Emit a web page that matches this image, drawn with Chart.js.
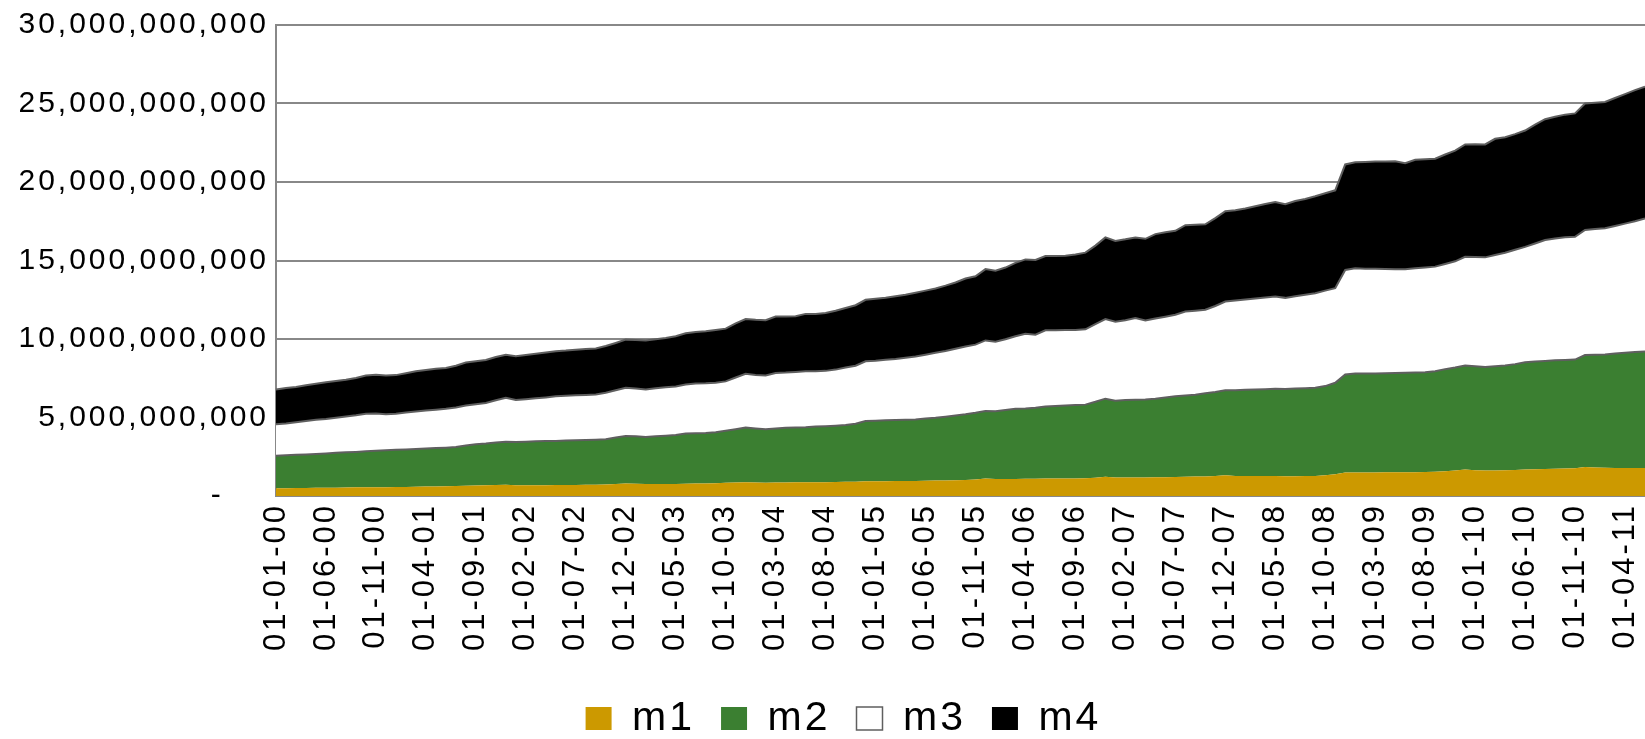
<!DOCTYPE html>
<html>
<head>
<meta charset="utf-8">
<script src="https://cdn.jsdelivr.net/npm/chart.js@4.4.0/dist/chart.umd.min.js"></script>
<style>
  html, body { margin: 0; padding: 0; background: #ffffff; }
  #wrap { width: 1645px; height: 739px; position: relative; }
</style>
</head>
<body>
<div id="wrap"><canvas id="c"></canvas></div>
<script>
// Values in billions
const startYear = 0, startMonth = 1, pointCount = 138;
const seriesNames = ['m1', 'm2', 'm3', 'm4'];
const m1 = [0.50,0.50,0.51,0.51,0.52,0.52,0.53,0.54,0.55,0.55,
0.56,0.56,0.57,0.58,0.59,0.60,0.61,0.62,0.63,0.65,
0.67,0.68,0.70,0.71,0.68,0.68,0.69,0.69,0.70,0.70,
0.70,0.71,0.71,0.73,0.77,0.80,0.78,0.76,0.76,0.77,
0.77,0.78,0.79,0.80,0.82,0.84,0.86,0.88,0.86,0.85,
0.86,0.86,0.87,0.87,0.88,0.88,0.89,0.90,0.91,0.94,
0.94,0.94,0.95,0.95,0.96,0.97,0.98,0.99,1.00,1.02,
1.05,1.12,1.08,1.08,1.09,1.10,1.10,1.11,1.11,1.12,
1.12,1.13,1.16,1.22,1.18,1.18,1.18,1.18,1.19,1.20,
1.21,1.23,1.24,1.25,1.28,1.32,1.28,1.27,1.27,1.27,
1.27,1.26,1.26,1.27,1.28,1.32,1.38,1.50,1.50,1.50,
1.50,1.51,1.51,1.51,1.52,1.53,1.55,1.58,1.62,1.68,
1.64,1.62,1.63,1.64,1.66,1.68,1.70,1.72,1.73,1.75,
1.76,1.84,1.82,1.80,1.79,1.78,1.78,1.78];
const m2 = [2.06,2.09,2.11,2.14,2.16,2.19,2.22,2.24,2.26,2.30,
2.33,2.36,2.37,2.38,2.40,2.42,2.44,2.46,2.49,2.57,
2.63,2.66,2.70,2.75,2.76,2.78,2.79,2.81,2.81,2.83,
2.85,2.86,2.88,2.89,2.95,3.02,3.02,3.00,3.04,3.07,
3.11,3.20,3.21,3.22,3.24,3.31,3.39,3.48,3.44,3.40,
3.44,3.48,3.49,3.51,3.54,3.57,3.59,3.62,3.69,3.84,
3.86,3.88,3.89,3.91,3.92,3.96,4.00,4.06,4.12,4.18,
4.25,4.30,4.32,4.40,4.47,4.48,4.52,4.59,4.62,4.64,
4.67,4.69,4.84,4.98,4.89,4.93,4.95,4.97,5.01,5.08,
5.15,5.17,5.21,5.30,5.34,5.42,5.46,5.49,5.51,5.53,
5.56,5.56,5.58,5.59,5.61,5.68,5.83,6.24,6.30,6.30,
6.31,6.31,6.32,6.34,6.34,6.35,6.40,6.50,6.56,6.63,
6.62,6.60,6.63,6.67,6.74,6.84,6.86,6.88,6.91,6.92,
6.93,7.14,7.18,7.22,7.29,7.34,7.39,7.43];
const m3 = [2.01,2.03,2.08,2.13,2.17,2.19,2.23,2.28,2.33,2.39,
2.37,2.28,2.30,2.36,2.39,2.42,2.45,2.48,2.52,2.54,
2.54,2.58,2.70,2.80,2.67,2.71,2.74,2.78,2.84,2.85,
2.86,2.87,2.88,2.96,3.02,3.07,3.04,3.03,3.06,3.08,
3.10,3.12,3.16,3.16,3.16,3.15,3.30,3.42,3.40,3.42,
3.54,3.52,3.54,3.57,3.53,3.52,3.57,3.66,3.70,3.80,
3.82,3.86,3.89,3.94,4.00,4.07,4.14,4.19,4.26,4.32,
4.34,4.49,4.43,4.50,4.62,4.76,4.65,4.85,4.83,4.81,
4.79,4.80,4.95,5.07,5.03,5.09,5.20,5.03,5.10,5.14,
5.18,5.35,5.35,5.31,5.48,5.65,5.71,5.76,5.80,5.84,
5.87,5.80,5.88,5.96,6.03,6.08,6.03,6.66,6.70,6.68,
6.66,6.64,6.62,6.59,6.64,6.68,6.66,6.70,6.77,6.93,
6.96,6.98,7.09,7.18,7.28,7.35,7.52,7.70,7.76,7.81,
7.82,7.97,8.00,8.03,8.12,8.23,8.33,8.46];
const m4 = [2.22,2.26,2.25,2.27,2.30,2.35,2.34,2.34,2.38,2.44,
2.46,2.48,2.46,2.50,2.56,2.58,2.60,2.60,2.66,2.74,
2.74,2.74,2.75,2.74,2.79,2.81,2.84,2.86,2.87,2.88,
2.91,2.92,2.93,2.97,3.01,3.07,3.10,3.12,3.12,3.14,
3.20,3.26,3.29,3.32,3.36,3.36,3.45,3.49,3.52,3.53,
3.59,3.57,3.55,3.65,3.65,3.68,3.75,3.80,3.85,3.92,
3.94,3.95,3.99,4.02,4.07,4.08,4.10,4.16,4.22,4.33,
4.36,4.54,4.52,4.57,4.67,4.73,4.76,4.73,4.72,4.73,
4.80,4.88,5.00,5.20,5.15,5.15,5.14,5.20,5.38,5.38,
5.35,5.50,5.48,5.45,5.60,5.75,5.75,5.79,5.87,5.96,
6.03,5.96,6.07,6.10,6.17,6.20,6.23,6.72,6.76,6.80,
6.83,6.85,6.87,6.76,6.92,6.89,6.87,6.97,7.05,7.15,
7.18,7.19,7.40,7.36,7.37,7.41,7.58,7.70,7.75,7.81,
7.86,8.05,8.05,8.05,8.15,8.25,8.35,8.40];
const yTickValues = [0, 5, 10, 15, 20, 25, 30];
const labelEvery = 5;

// categories: first of each month, dd-mm-yy
const pad2 = n => String(n).padStart(2, '0');
const categories = [];
for (let i = 0; i < pointCount; i++) {
  const mIdx = (startMonth - 1) + i;
  categories.push('01-' + pad2(mIdx % 12 + 1) + '-' + pad2(startYear + Math.floor(mIdx / 12)));
}

const FONT = "'Liberation Sans', Arial, sans-serif";
const fills = ['#CC9900', '#3B7F31', '#FFFFFF', '#000000'];
const edge = '#5F5F5F';
const values = [m1, m2, m3, m4];

const datasets = values.map((arr, k) => ({
  label: seriesNames[k],
  data: arr,
  backgroundColor: fills[k],
  borderColor: k === 0 ? fills[0] : edge,
  borderWidth: k === 0 ? 0 : 2,
  fill: k === 0 ? 'origin' : '-1',
  pointRadius: 0,
  tension: 0
}));

// wide text spacing as in the original rendering; legend nudged right as in the original
const spacingPlugin = {
  id: 'spacing',
  beforeUpdate: c => { c.ctx.letterSpacing = '3px'; },
  beforeLayout: c => { c.ctx.letterSpacing = '3px'; },
  afterLayout: c => { if (c.legend) { c.legend.left += 21; c.legend.right += 21; } },
  beforeDraw: c => { c.ctx.letterSpacing = '3px'; }
};

new Chart(document.getElementById('c'), {
  type: 'line',
  data: { labels: categories, datasets },
  plugins: [spacingPlugin],
  options: {
    responsive: true,
    maintainAspectRatio: false,
    devicePixelRatio: 1,
    animation: false,
    events: [],
    layout: { padding: { left: 0, top: 25, right: 0, bottom: -10 } },
    plugins: {
      tooltip: { enabled: false },
      legend: {
        position: 'bottom',
        labels: {
          font: { family: FONT, size: 41 },
          color: '#000',
          boxWidth: 26,
          boxHeight: 23,
          padding: 26,
          generateLabels: chart => chart.data.datasets.map((ds, i) => ({
            text: ds.label,
            fillStyle: fills[i],
            strokeStyle: i === 2 ? edge : fills[i],
            lineWidth: i === 2 ? 1.5 : 0,
            hidden: false,
            datasetIndex: i
          }))
        }
      }
    },
    scales: {
      x: {
        type: 'category',
        grid: { display: false, drawTicks: false },
        border: { display: true, color: '#888888', width: 2 },
        ticks: {
          autoSkip: false,
          maxRotation: 90,
          minRotation: 90,
          padding: 7,
          color: '#000',
          font: { family: FONT, size: 31 },
          callback: (v, i) => (i % labelEvery === 0 ? categories[i] : '')
        },
        afterFit: s => { s.height = 176; s.paddingLeft = 0; s.paddingRight = 0; }
      },
      y: {
        stacked: true,
        min: 0,
        max: 30,
        grid: { color: '#888888', lineWidth: 2, drawTicks: false },
        border: { display: true, color: '#888888', width: 2 },
        afterBuildTicks: s => { s.ticks = yTickValues.map(v => ({ value: v })); },
        ticks: {
          padding: 7,
          color: '#000',
          font: { family: FONT, size: 30 },
          callback: v => (v === 0 ? '-    ' : (v * 1e9).toLocaleString('en-US'))
        },
        afterFit: s => { s.width = 276; s.paddingTop = 0; s.paddingBottom = 0; }
      }
    }
  }
});
</script>
</body>
</html>
